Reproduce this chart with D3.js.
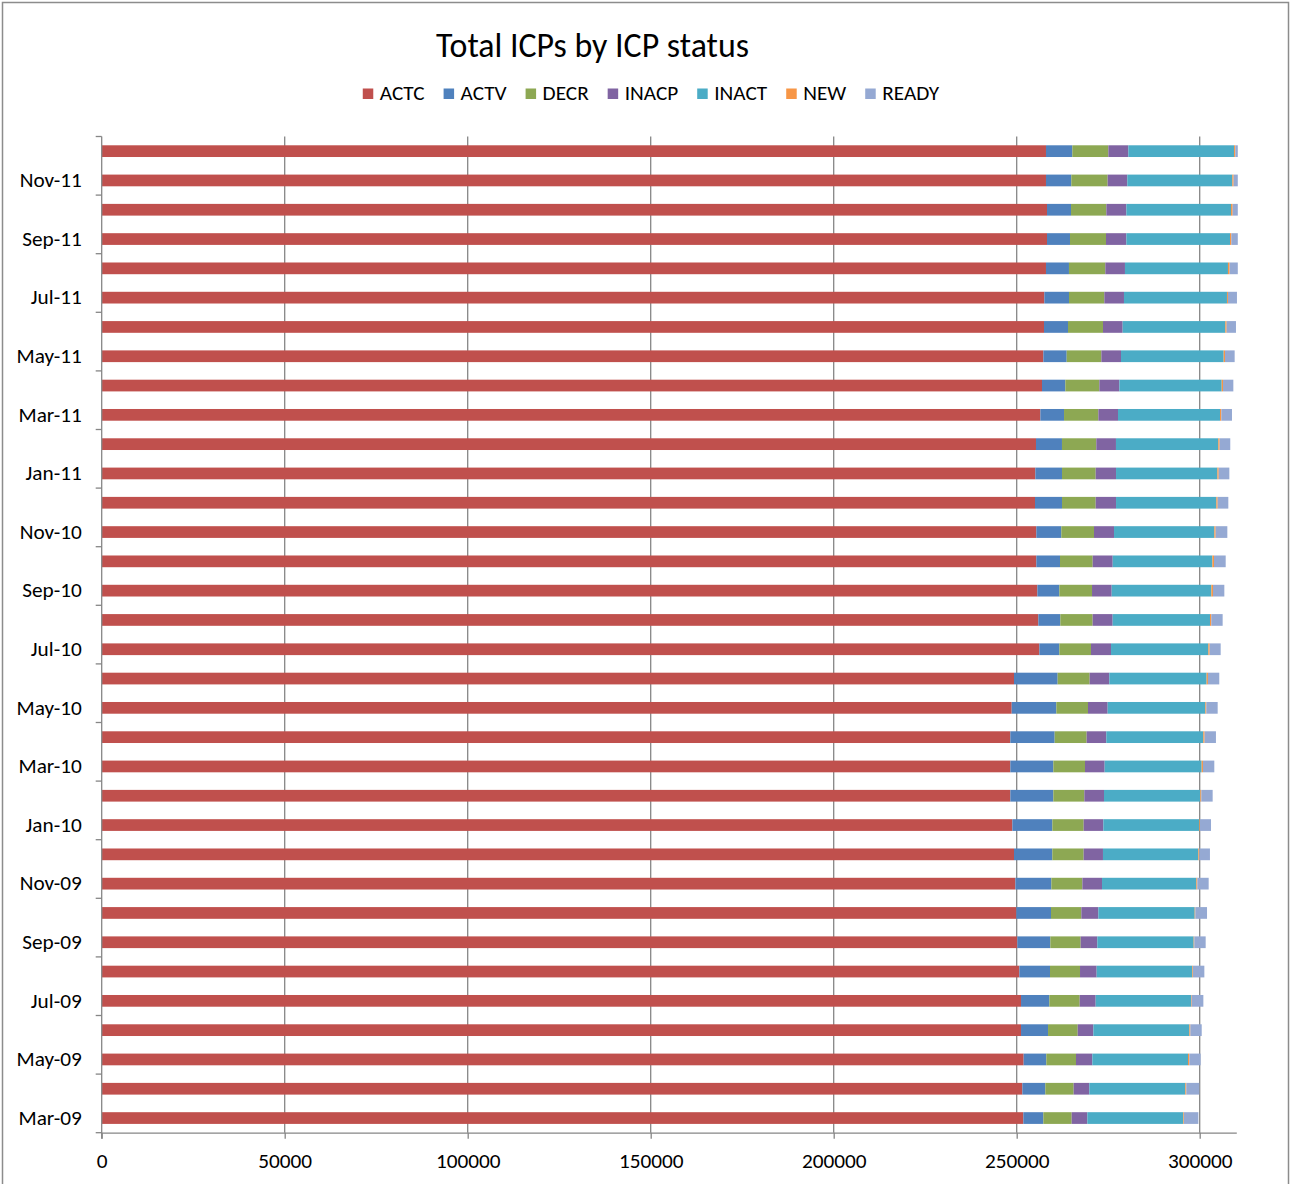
<!DOCTYPE html>
<html>
<head>
<meta charset="utf-8">
<script src="https://cdn.jsdelivr.net/npm/d3@7"></script>
<style>
  html, body { margin: 0; padding: 0; background: #fff; }
  svg { display: block; }
  text { font-family: Carlito, Lato, "Open Sans", sans-serif; fill: #000; }
</style>
</head>
<body>
<script>
const categories = ["Mar-09","Apr-09","May-09","Jun-09","Jul-09","Aug-09","Sep-09","Oct-09","Nov-09","Dec-09",
  "Jan-10","Feb-10","Mar-10","Apr-10","May-10","Jun-10","Jul-10","Aug-10","Sep-10","Oct-10","Nov-10","Dec-10",
  "Jan-11","Feb-11","Mar-11","Apr-11","May-11","Jun-11","Jul-11","Aug-11","Sep-11","Oct-11","Nov-11","Dec-11"];
const seriesNames = ["ACTC","ACTV","DECR","INACP","INACT","NEW","READY"];
const ACTC  = [251810,251540,251900,251180,251180,250720,250170,249900,249630,249260,248810,248260,248260,248260,248630,249260,256180,255910,255640,255360,255360,255000,255090,255270,256460,256910,257280,257460,257550,258000,258280,258280,258000,258000];
const ACTV  = [5470,6280,6190,7380,7740,8380,9020,9470,9840,10470,10930,11750,11750,12110,12200,11930,5470,6010,6010,6470,6830,7380,7290,7100,6470,6380,6380,6560,6740,6280,6280,6560,6920,7200];
const DECR  = [7740,7740,8110,8110,8290,8200,8290,8290,8470,8560,8560,8470,8650,8740,8650,8740,8650,8830,8930,8930,8930,9200,9200,9380,9380,9290,9470,9560,9650,9930,9840,9650,9930,9840];
const INACP = [4280,4280,4460,4280,4370,4550,4550,4650,5370,5280,5370,5370,5370,5370,5370,5370,5470,5470,5370,5470,5470,5560,5560,5370,5370,5470,5370,5370,5370,5370,5560,5470,5370,5470];
const INACT = [26230,26230,26140,26230,26050,26140,26320,26320,25770,26050,26230,26320,26500,26500,26690,26590,26590,26590,27230,27230,27410,27410,27690,27960,27870,27960,28050,28050,28140,28140,28320,28600,28690,28870];
const NEW   = [180,270,360,270,180,180,180,180,270,270,180,270,360,360,270,360,360,360,450,450,360,360,360,360,360,360,360,360,270,450,360,450,360,360];
const READY = [3920,3550,3100,3100,3190,3100,3100,3190,3100,2910,3010,3100,3100,3100,3100,3100,3010,3100,3100,3190,3190,2910,2910,2910,2910,2820,2640,2550,2460,2450,2450,2400,2350,2300];
const xTicks = [0,50000,100000,150000,200000,250000,300000];
const xMax = 310000;
const colors = ["#C0504D","#4F81BD","#8DA853","#8064A2","#4BACC6","#F79646","#95A9D3"];
const titleText = "Total ICPs by ICP status";

const valuesBySeries = {ACTC, ACTV, DECR, INACP, INACT, NEW, READY};
const rows = categories.map((c, i) => {
  const r = {cat: c};
  seriesNames.forEach(s => r[s] = valuesBySeries[s][i]);
  return r;
});

const W = 1291, H = 1184;
const M = {left: 101.7, right: 1236.3, top: 136.5, bottom: 1132.7};

const svg = d3.select("body").append("svg").attr("width", W).attr("height", H);

// outer chart border
svg.append("rect").attr("x", 2.5).attr("y", 2.5).attr("width", 1286).attr("height", 1200)
  .attr("fill", "none").attr("stroke", "#8c8c8c").attr("stroke-width", 1.5);

const x = d3.scaleLinear().domain([0, xMax]).range([M.left, M.right]);
const y = d3.scaleBand().domain(categories.slice().reverse()).range([M.top, M.bottom])
  .paddingInner(0.6).paddingOuter(0.3);

function fitSize(text, base, target) {
  const t = svg.append("text").attr("font-size", base).text(text);
  const w = t.node().getComputedTextLength();
  t.remove();
  return base * target / w;
}
const labelSize = fitSize("Nov-11", 18, 62);
const titleSize = fitSize(titleText, 28, 313);

// gridlines
svg.append("g").selectAll("line").data(xTicks.filter(d => d > 0)).join("line")
  .attr("x1", d => x(d)).attr("x2", d => x(d))
  .attr("y1", M.top).attr("y2", M.bottom)
  .attr("stroke", "#868686").attr("stroke-width", 1.3);

// bars
const stack = d3.stack().keys(seriesNames);
const stacked = stack(rows);
svg.append("clipPath").attr("id", "plotclip").append("rect")
  .attr("x", M.left).attr("y", M.top - 5).attr("width", x(xMax) - M.left + 1.5).attr("height", M.bottom - M.top + 10);
const barG = svg.append("g").attr("clip-path", "url(#plotclip)");
barG.selectAll("g").data(stacked).join("g")
  .attr("fill", (d, i) => colors[i])
  .selectAll("rect").data(d => d).join("rect")
  .attr("x", d => x(d[0]))
  .attr("width", d => Math.max(0, x(d[1]) - x(d[0])))
  .attr("y", d => y(d.data.cat))
  .attr("height", y.bandwidth());

// x axis
const xAxis = svg.append("g").attr("transform", `translate(0,${M.bottom})`)
  .call(d3.axisBottom(x).tickValues(xTicks).tickFormat(d3.format("d")).tickSize(6).tickSizeOuter(0).tickPadding(14));
xAxis.select(".domain").attr("stroke", "#868686").attr("stroke-width", 1.3);
xAxis.selectAll(".tick line").attr("stroke", "#868686").attr("stroke-width", 1.3);
xAxis.selectAll(".tick text").attr("font-size", labelSize).attr("font-family", "Carlito, Lato, 'Open Sans', sans-serif").attr("fill", "#000");

// y axis line
svg.append("line").attr("x1", M.left).attr("x2", M.left).attr("y1", M.top).attr("y2", M.bottom + 6)
  .attr("stroke", "#868686").attr("stroke-width", 1.3);
// y tick marks every two categories at category boundaries
const step = y.step();
const boundaryCats = categories.filter((c, i) => i % 2 === 0);
const tickYs = boundaryCats.map(c => y(c) + y.bandwidth() + step * y.paddingInner() / 2);
tickYs.push(y(categories[categories.length - 1]) - step * y.paddingInner() / 2);
svg.append("g").selectAll("line").data(tickYs).join("line")
  .attr("x1", M.left - 6).attr("x2", M.left).attr("y1", d => d).attr("y2", d => d)
  .attr("stroke", "#868686").attr("stroke-width", 1.3);

// y labels
const yAxis = svg.append("g").attr("transform", `translate(${M.left},0)`)
  .call(d3.axisLeft(y).tickValues(boundaryCats).tickSize(0).tickPadding(20));
yAxis.select(".domain").remove();
yAxis.selectAll(".tick text").attr("font-size", labelSize).attr("font-family", "Carlito, Lato, 'Open Sans', sans-serif").attr("fill", "#000");

// title
svg.append("text").attr("x", 592.5).attr("y", 57).attr("text-anchor", "middle")
  .attr("font-size", titleSize).text(titleText);

// legend
const legG = svg.append("g");
let cx = 0;
seriesNames.forEach((s, i) => {
  const g = legG.append("g").attr("transform", `translate(${cx},0)`);
  g.append("rect").attr("x", 0).attr("y", -5).attr("width", 10.5).attr("height", 10.5).attr("fill", colors[i]);
  const t = g.append("text").attr("x", 17).attr("y", 6.5).attr("font-size", labelSize).text(s);
  const w = t.node().getComputedTextLength();
  cx += 17 + w + 19;
});
const legWidth = cx - 19;
legG.attr("transform", `translate(${651 - legWidth / 2},93.5)`);
</script>
</body>
</html>
